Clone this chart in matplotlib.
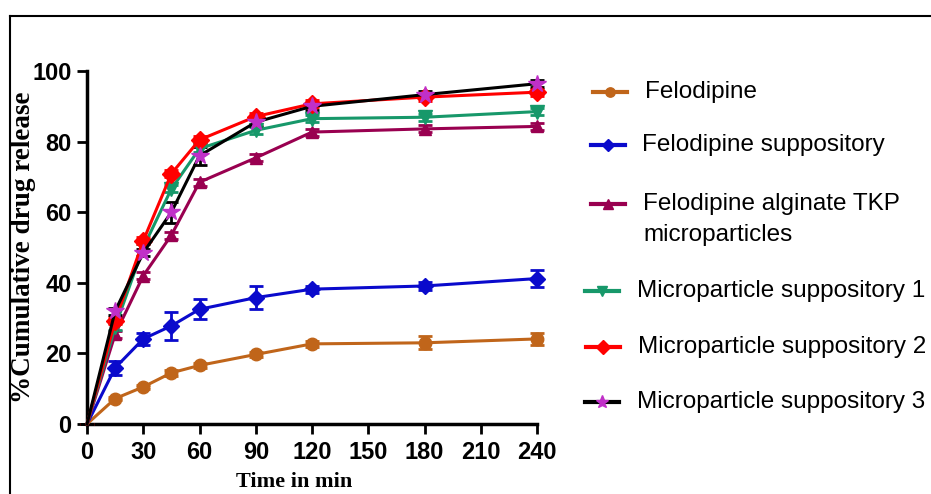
import matplotlib
matplotlib.use('Agg')
import matplotlib.pyplot as plt
from matplotlib.lines import Line2D

# tempo (min) e % liberação acumulada
tempo = [0, 15, 30, 45, 60, 90, 120, 180, 240]

felodipina = [0, 7.2, 10.5, 14.5, 16.6, 19.7, 22.7, 23.0, 24.1]
felodipina_err = [0, 0.5, 0.5, 0.8, 0.8, 0.8, 0.8, 1.8, 1.8]

supositorio = [0, 15.9, 24.1, 27.8, 32.5, 35.8, 38.2, 39.1, 41.2]
supositorio_err = [0, 2.0, 1.8, 4.0, 2.8, 3.2, 1.0, 1.0, 2.5]

alginato = [0, 25.4, 42.0, 53.5, 68.5, 75.4, 82.7, 83.6, 84.3]
alginato_err = [0, 1, 1, 1, 1, 1, 1, 1, 1]

ms1 = [0, 27.5, 50.0, 66.6, 78.0, 83.2, 86.5, 86.9, 88.5]
ms1_err = [0, 1, 1, 1, 1, 1, 1, 1, 1]

ms2 = [0, 29.2, 51.9, 70.9, 80.5, 87.1, 90.7, 92.6, 94.0]
ms2_err = [0, 1, 1, 1, 1, 1, 1, 1, 1]

ms3 = [0, 32.0, 48.5, 60.0, 76.0, 85.5, 90.0, 93.3, 96.4]
ms3_err = [0, 1, 1, 3, 2.5, 1, 1, 1, 1]

rotulos = ['Felodipine', 'Felodipine suppository',
           'Felodipine alginate TKP\nmicroparticles',
           'Microparticle suppository 1', 'Microparticle suppository 2',
           'Microparticle suppository 3']

series = [
    (felodipina, felodipina_err, '#C0651A', '#C0651A', 'o', 9),
    (supositorio, supositorio_err, '#0A0ACC', '#0A0ACC', 'D', 8),
    (alginato, alginato_err, '#990050', '#990050', '^', 9),
    (ms1, ms1_err, '#17986A', '#17986A', 'v', 10),
    (ms2, ms2_err, '#FF0000', '#FF0000', 'D', 9),
    (ms3, ms3_err, 'black', '#C030C8', '*', 13),
]

fig = plt.figure(figsize=(9.31, 4.94), dpi=100)
ax = fig.add_axes([87/931, 1-424/494, 450/931, 353/494])

for y, e, cor_linha, cor_marc, m, ms in series:
    ax.errorbar(tempo, y, yerr=e, color=cor_linha, lw=2.2, marker=m, ms=ms,
                mfc=cor_marc, mec=cor_marc, ecolor=cor_linha, elinewidth=2,
                capsize=5, capthick=2, clip_on=False, zorder=3,
                markevery=slice(1, None))

ax.set_xlim(0, 240)
ax.set_ylim(0, 100)
ax.set_xticks(range(0, 241, 30))
ax.set_yticks(range(0, 101, 20))
for s in ['top', 'right']:
    ax.spines[s].set_visible(False)
for s in ['left', 'bottom']:
    ax.spines[s].set_linewidth(2.5)
ax.tick_params(direction='out', length=7, width=2)
ax.tick_params(axis='x', pad=5)
ax.tick_params(axis='y', pad=4)
for lab in ax.get_xticklabels() + ax.get_yticklabels():
    lab.set_family('Liberation Sans')
    lab.set_fontweight('bold')
    lab.set_fontsize(17)

ax.set_xlabel('Time in min', family='Liberation Serif', fontweight='bold',
              fontsize=16)
ax.xaxis.set_label_coords((294 - 87) / 450, -(482 - 424) / 353)
ax.set_ylabel('%Cumulative drug release', family='Liberation Serif',
              fontweight='bold', fontsize=19.5)
ax.yaxis.set_label_coords((24 - 87) / 450, 0.5)
ax.yaxis.label.set_va('center')
ax.xaxis.label.set_va('center')

# legenda manual (posições em pixels)
leg_y = [92, 145, 204, 291, 347, 402]
leg_x0 = [593, 591, 591, 585, 586, 585]
leg_tx = [645, 642, 643, 637, 638, 637]
H = 494
for i, (y, e, cor_linha, cor_marc, m, ms) in enumerate(series):
    yy = 1 - leg_y[i] / H
    x0 = leg_x0[i] / 931
    fig.add_artist(Line2D([x0, x0 + 34/931], [yy, yy], color=cor_linha, lw=3,
                          transform=fig.transFigure))
    fig.add_artist(Line2D([x0 + 17/931], [yy], color=cor_linha, marker=m,
                          ms=ms*0.75, mfc=cor_marc, mec=cor_marc,
                          transform=fig.transFigure))
    va = 'top' if '\n' in rotulos[i] else 'center'
    ty = yy + (11/H if va == 'top' else 0)
    fig.text(leg_tx[i]/931, ty, rotulos[i], family='Liberation Sans',
             fontsize=17.5, va=va, ha='left', linespacing=1.5)

# moldura da figura
fig.add_artist(Line2D([10/931, 1], [1-16/H, 1-16/H], color='black', lw=1.5,
                      transform=fig.transFigure))
fig.add_artist(Line2D([10/931, 10/931], [0, 1-16/H], color='black', lw=1.5,
                      transform=fig.transFigure))

plt.savefig('out.png', dpi=100)
